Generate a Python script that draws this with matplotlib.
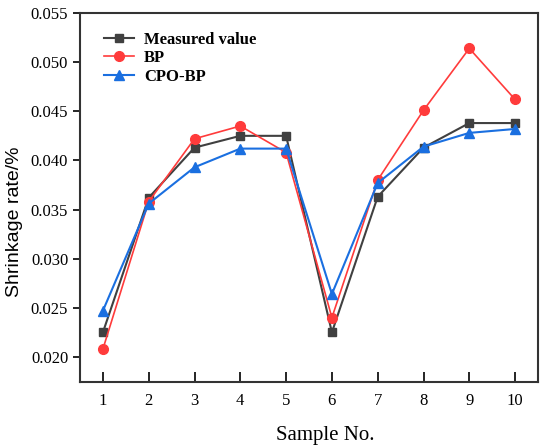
import matplotlib
matplotlib.use("Agg")
import matplotlib.pyplot as plt

# data
samples = [1, 2, 3, 4, 5, 6, 7, 8, 9, 10]
measured = [0.0225, 0.0362, 0.0413, 0.0425, 0.0425, 0.0225, 0.0363, 0.0413, 0.0438, 0.0438]
bp = [0.0208, 0.0358, 0.0422, 0.0435, 0.0408, 0.0240, 0.0380, 0.0451, 0.0514, 0.0462]
cpo_bp = [0.0247, 0.0356, 0.0393, 0.0412, 0.0412, 0.0264, 0.0377, 0.0414, 0.0428, 0.0432]
y_ticks = [0.020, 0.025, 0.030, 0.035, 0.040, 0.045, 0.050, 0.055]

plt.rcParams['font.family'] = ['Liberation Serif', 'DejaVu Serif']

fig = plt.figure(figsize=(5.5, 4.45), dpi=100)
ax = fig.add_axes([80/550, 1-382/445, 458/550, 369/445])

ax.plot(samples, measured, color='#404040', marker='s', markersize=6, lw=1.5, label='Measured value')
ax.plot(samples, bp, color='#ff3b3b', marker='o', markersize=7, lw=1.2, label='BP')
ax.plot(samples, cpo_bp, color='#1a6fe0', marker='^', markersize=7, lw=1.5, label='CPO-BP')

ax.set_xlim(0.5, 10.5)
ax.set_ylim(0.01745, 0.055)
ax.set_xticks(samples)
ax.set_yticks(y_ticks)
ax.set_yticklabels([f'{v:.3f}' for v in y_ticks])
ax.tick_params(axis='x', direction='in', length=7, width=1.2, labelsize=12, pad=8)
ax.tick_params(axis='y', direction='out', length=5, width=1.2, labelsize=12)
for s in ax.spines.values():
    s.set_linewidth(1.5)
    s.set_color('#333333')

ax.set_xlabel('Sample No.', fontsize=15)
ax.xaxis.set_label_coords(0.535, -0.12)
ax.set_ylabel('Shrinkage rate/%', fontsize=14, family=['Liberation Sans'])
ax.yaxis.set_label_coords(-0.125, 0.434)

ax.legend(loc='upper left', bbox_to_anchor=(0.02, 0.99), frameon=False,
          prop={'weight': 'bold', 'size': 12}, handlelength=1.8,
          labelspacing=0.15, handletextpad=0.6)

fig.savefig('out.png', dpi=100)
